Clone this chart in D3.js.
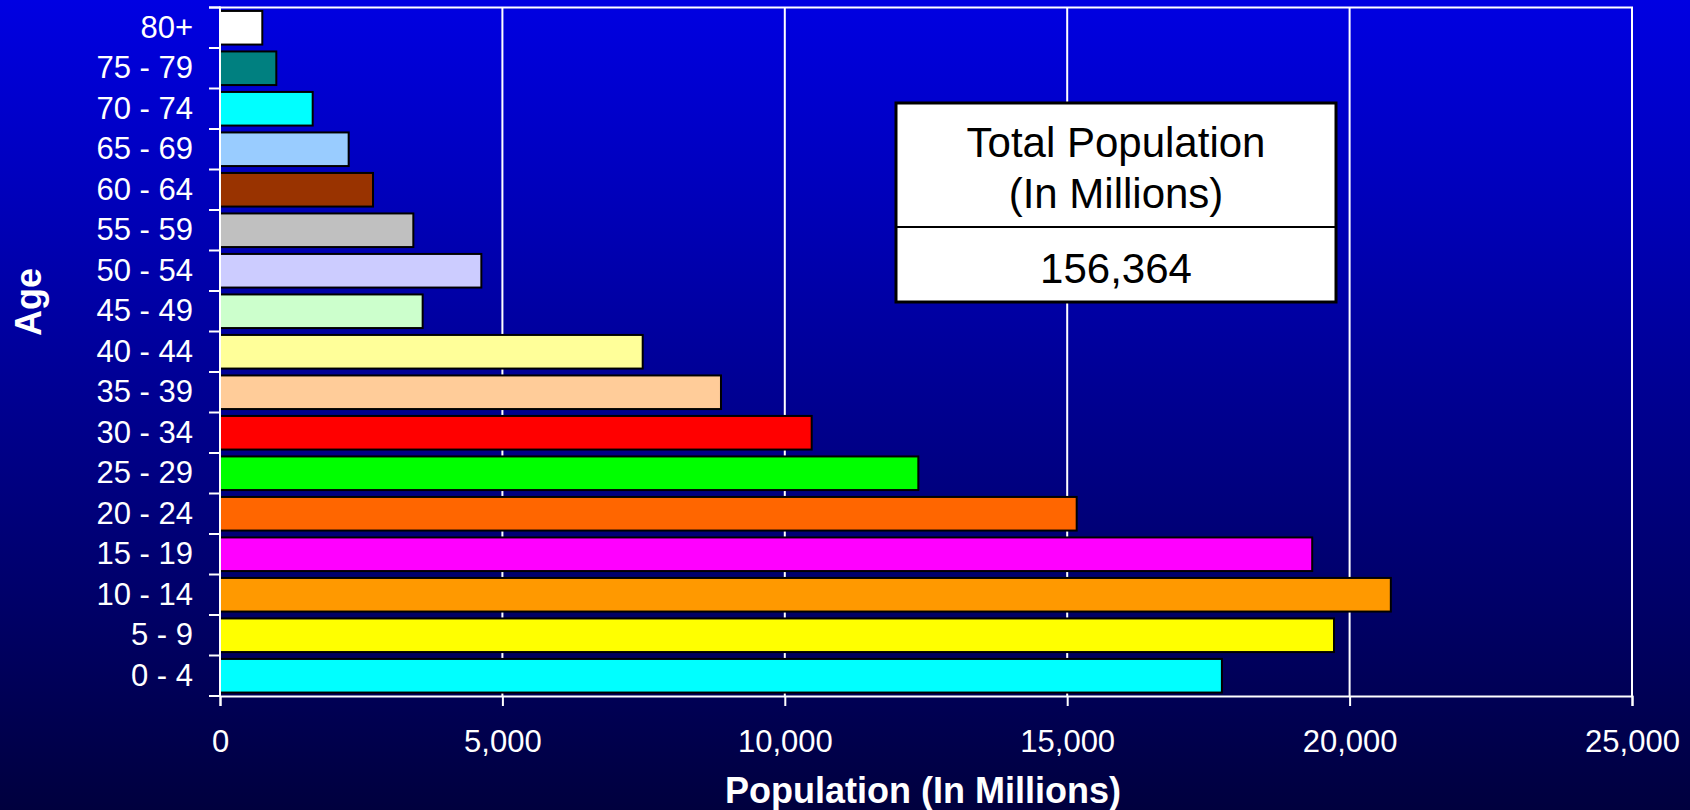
<!DOCTYPE html>
<html>
<head>
<meta charset="utf-8">
<script src="https://cdn.jsdelivr.net/npm/d3@7"></script>
<style>
    html, body { margin: 0; padding: 0; overflow: hidden; }
    svg { display: block; font-family: "Liberation Sans", Arial, sans-serif; }
</style>
</head>
<body>
<svg id="chart"></svg>
<script>
const width = 1690;
const height = 810;

// age groups, top to bottom as drawn
const ageGroups = ['80+', '75 - 79', '70 - 74', '65 - 69', '60 - 64', '55 - 59', '50 - 54', '45 - 49',
                   '40 - 44', '35 - 39', '30 - 34', '25 - 29', '20 - 24', '15 - 19', '10 - 14', '5 - 9', '0 - 4'];
const population = [749, 997, 1641, 2278, 2709, 3423, 4627, 3588,
                    7484, 8870, 10476, 12364, 15168, 19338, 20730, 19724, 17739];
const barColors = ['#ffffff', '#008080', '#00ffff', '#99ccff', '#993300', '#c0c0c0', '#ccccff', '#ccffcc',
                   '#ffff99', '#ffcc99', '#ff0000', '#00ff00', '#ff6600', '#ff00ff', '#ff9900', '#ffff00', '#00ffff'];
const xTicks = [0, 5000, 10000, 15000, 20000, 25000];
const totalLines = ['Total Population', '(In Millions)'];
const totalValue = 156364;

const plot = { left: 220, right: 1632, top: 7.5, bottom: 696 };

const svg = d3.select('#chart')
              .attr('width', width)
              .attr('height', height);

// Background gradient
const grad = svg.append('defs')
                .append('linearGradient')
                .attr('id', 'bg')
                .attr('x1', 0).attr('y1', 0)
                .attr('x2', 0).attr('y2', 1);
grad.append('stop').attr('offset', '0%').attr('stop-color', '#0000e2');
grad.append('stop').attr('offset', '100%').attr('stop-color', '#00003e');

svg.append('rect')
   .attr('width', width)
   .attr('height', height)
   .attr('fill', 'url(#bg)');

const x = d3.scaleLinear()
            .domain([0, 25000])
            .range([plot.left, plot.right]);

const y = d3.scaleBand()
            .domain(ageGroups)
            .range([plot.top, plot.bottom])
            .paddingInner(0.17)
            .paddingOuter(0.085);

// Grid lines
svg.append('g')
   .selectAll('line')
   .data(xTicks.slice(1))
   .join('line')
   .attr('x1', function(d) { return x(d); })
   .attr('x2', function(d) { return x(d); })
   .attr('y1', plot.top)
   .attr('y2', plot.bottom)
   .attr('stroke', '#ffffff')
   .attr('stroke-width', 2);

// Top border
svg.append('line')
   .attr('x1', plot.left - 11)
   .attr('x2', plot.right + 1)
   .attr('y1', plot.top)
   .attr('y2', plot.top)
   .attr('stroke', '#ffffff')
   .attr('stroke-width', 2);

// Bars
svg.append('g')
   .selectAll('rect')
   .data(ageGroups)
   .join('rect')
   .attr('x', x(0))
   .attr('y', function(d) { return y(d); })
   .attr('width', function(d, i) { return x(population[i]) - x(0); })
   .attr('height', y.bandwidth())
   .attr('fill', function(d, i) { return barColors[i]; })
   .attr('stroke', '#000000')
   .attr('stroke-width', 2);

// X axis
const xAxis = svg.append('g')
                 .attr('transform', 'translate(0,' + plot.bottom + ')')
                 .call(d3.axisBottom(x)
                         .tickValues(xTicks)
                         .tickFormat(d3.format(','))
                         .tickSize(10));
xAxis.select('.domain').attr('stroke', '#ffffff').attr('stroke-width', 2);
xAxis.selectAll('.tick line').attr('stroke', '#ffffff').attr('stroke-width', 2);
xAxis.selectAll('.tick text')
     .attr('y', 56)
     .attr('dy', 0)
     .attr('fill', '#ffffff')
     .attr('font-size', 31)
     .attr('font-family', '"Liberation Sans", Arial, sans-serif');

// Y axis (labels centred in bands, ticks on band boundaries)
const yAxis = svg.append('g')
                 .attr('transform', 'translate(' + plot.left + ',0)')
                 .call(d3.axisLeft(y).tickSize(0).tickPadding(27));
yAxis.select('.domain').remove();
yAxis.selectAll('.tick text')
     .attr('fill', '#ffffff')
     .attr('font-size', 31)
     .attr('font-family', '"Liberation Sans", Arial, sans-serif');

svg.append('g')
   .selectAll('line')
   .data(d3.range(ageGroups.length + 1))
   .join('line')
   .attr('x1', plot.left - 11)
   .attr('x2', plot.left)
   .attr('y1', function(i) { return plot.top + i * y.step(); })
   .attr('y2', function(i) { return plot.top + i * y.step(); })
   .attr('stroke', '#ffffff')
   .attr('stroke-width', 2);

svg.append('line')
   .attr('x1', plot.left)
   .attr('x2', plot.left)
   .attr('y1', plot.top - 1)
   .attr('y2', plot.bottom + 1)
   .attr('stroke', '#ffffff')
   .attr('stroke-width', 2);

// Axis titles
svg.append('text')
   .attr('x', 923)
   .attr('y', 803)
   .attr('text-anchor', 'middle')
   .attr('fill', '#ffffff')
   .attr('font-size', 36)
   .attr('font-weight', 'bold')
   .text('Population (In Millions)');

svg.append('text')
   .attr('transform', 'translate(41,302) rotate(-90)')
   .attr('text-anchor', 'middle')
   .attr('fill', '#ffffff')
   .attr('font-size', 36)
   .attr('font-weight', 'bold')
   .text('Age');

// Total population box
const box = { x0: 896, x1: 1336, y0: 103, y1: 302, split: 227 };
const boxG = svg.append('g');
boxG.append('rect')
    .attr('x', box.x0)
    .attr('y', box.y0)
    .attr('width', box.x1 - box.x0)
    .attr('height', box.y1 - box.y0)
    .attr('fill', '#ffffff')
    .attr('stroke', '#000000')
    .attr('stroke-width', 3);
boxG.append('line')
    .attr('x1', box.x0)
    .attr('x2', box.x1)
    .attr('y1', box.split)
    .attr('y2', box.split)
    .attr('stroke', '#000000')
    .attr('stroke-width', 2);
boxG.selectAll('text.head')
    .data(totalLines)
    .join('text')
    .attr('class', 'head')
    .attr('x', (box.x0 + box.x1) / 2)
    .attr('y', function(d, i) { return 157 + i * 51; })
    .attr('text-anchor', 'middle')
    .attr('font-size', 42)
    .attr('fill', '#000000')
    .text(function(d) { return d; });
boxG.append('text')
    .attr('x', (box.x0 + box.x1) / 2)
    .attr('y', 283)
    .attr('text-anchor', 'middle')
    .attr('font-size', 42)
    .attr('fill', '#000000')
    .text(d3.format(',')(totalValue));
</script>
</body>
</html>
